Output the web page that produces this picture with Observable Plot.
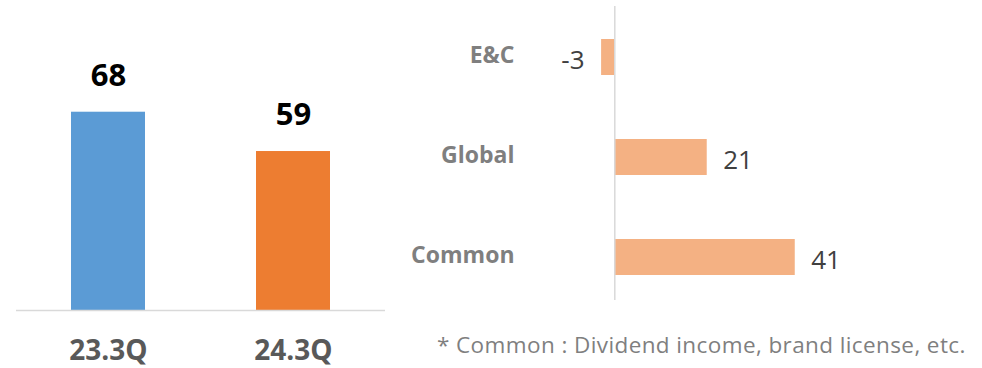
<!DOCTYPE html>
<html>
<head>
<meta charset="utf-8">
<script src="https://cdn.jsdelivr.net/npm/d3@7"></script>
<script src="https://cdn.jsdelivr.net/npm/@observablehq/plot@0.6"></script>
<style>
  html, body { margin: 0; padding: 0; background: #fff; }
  #wrap { position: relative; width: 982px; height: 368px; overflow: hidden; font-family: "Open Sans", "Noto Sans", sans-serif; }
  #left { position: absolute; left: 0; top: 0; }
  #right { position: absolute; left: 400px; top: 0; }
  #note { position: absolute; left: 437px; top: 329px; font-size: 22.5px; letter-spacing: 0.4px; color: #7f7f7f; white-space: nowrap; font-family: "Open Sans", sans-serif; }
</style>
</head>
<body>
<div id="wrap">
  <div id="left"></div>
  <div id="right"></div>
  <div id="note"></div>
</div>
<script>
// Left panel data
const periods = ["23.3Q", "24.3Q"];
const periodValues = [68, 59];
const periodColors = ["#5b9bd5", "#ed7d31"];

// Right panel data
const segments = ["E&C", "Global", "Common"];
const segmentValues = [-3, 21, 41];

// Footnote
const footnote = "* Common : Dividend income, brand license, etc.";
document.getElementById("note").textContent = footnote;

const font = "'Open Sans', 'Noto Sans', sans-serif";

const leftData = periods.map((p, i) => ({period: p, value: periodValues[i], color: periodColors[i]}));
const yMin = 22.6;

const left = Plot.plot({
  width: 400,
  height: 368,
  marginLeft: 16,
  marginRight: 15,
  marginTop: 20,
  marginBottom: 58,
  style: {fontFamily: font, background: "transparent", overflow: "visible"},
  x: {domain: periods, paddingInner: 0.6, paddingOuter: 0.297, axis: null},
  y: {domain: [yMin, 89], axis: null},
  marks: [
    Plot.barY(leftData, {x: "period", y1: yMin, y2: "value", fill: "color"}),
    Plot.ruleY([yMin], {stroke: "#d9d9d9", strokeWidth: 1.5}),
    Plot.text(leftData, {x: "period", y: "value", text: d => String(d.value), dy: -36, fontSize: 31, fontWeight: "bold", fill: "#000"}),
    Plot.axisX({tickSize: 0, tickPadding: 30, fontSize: 28, fontWeight: "bold", color: "#595959", label: null})
  ]
});
document.getElementById("left").appendChild(left);

const rightData = segments.map((s, i) => ({segment: s, value: segmentValues[i]}));

const right = Plot.plot({
  width: 582,
  height: 368,
  marginLeft: 200,
  marginRight: 20,
  marginTop: 6,
  marginBottom: 61,
  style: {fontFamily: font, background: "transparent", overflow: "visible"},
  x: {domain: [-3.25, 79], axis: null},
  y: {domain: segments, paddingInner: 0.64, paddingOuter: 0.32, axis: null},
  marks: [
    Plot.barX(rightData, {y: "segment", x1: 0, x2: "value", fill: "#f4b183"}),
    Plot.ruleX([0], {stroke: "#d9d9d9", strokeWidth: 1.5, insetBottom: 7}),
    Plot.text(rightData.filter(d => d.value >= 0), {y: "segment", x: "value", text: d => String(d.value), textAnchor: "start", dx: 16, dy: 3, fontSize: 26, fill: "#404040"}),
    Plot.text(rightData.filter(d => d.value < 0), {y: "segment", x: "value", text: d => String(d.value), textAnchor: "end", dx: -17, dy: 3, fontSize: 26, fill: "#404040"}),
    Plot.axisY({tickSize: 0, tickPadding: 86, dy: -2, fontSize: 23, fontWeight: "bold", color: "#7f7f7f", label: null})
  ]
});
document.getElementById("right").appendChild(right);
</script>
</body>
</html>
